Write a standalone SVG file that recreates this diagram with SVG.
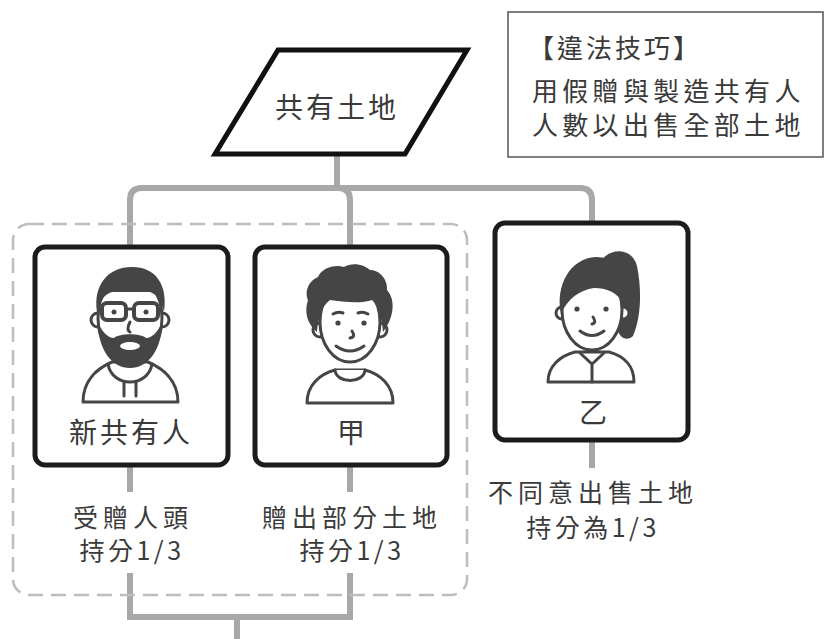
<svg xmlns="http://www.w3.org/2000/svg" width="825" height="639" viewBox="0 0 825 639">
  <style>
    .t { font-family: "Noto Sans CJK TC", "Noto Sans CJK SC", "Noto Sans", sans-serif; fill: #3a3a3a; }
    .card { fill: #ffffff; stroke: #1c1c1c; stroke-width: 5; }
    .wire { fill: none; stroke: #a8a8a8; stroke-width: 6; }
    .ink { fill: #454545; }
    .line { fill: #ffffff; stroke: #454545; stroke-width: 3; stroke-linejoin: round; stroke-linecap: round; }
    .stroke { fill: none; stroke: #454545; stroke-width: 3; stroke-linecap: round; }
  </style>
  <rect width="825" height="639" fill="#ffffff"/>

  <!-- connectors -->
  <g id="connectors">
    <path class="wire" d="M337,154 V188"/>
    <path class="wire" d="M130,247 V200 Q130,188 142,188 H580 Q592,188 592,200 V222"/>
    <path class="wire" d="M338,188 Q350,188 350,200 V247"/>
    <path class="wire" d="M130,465 V492"/>
    <path class="wire" d="M350,465 V492"/>
    <path class="wire" d="M592,440 V468"/>
    <path class="wire" d="M130,573 V617 H350 V573"/>
    <path class="wire" d="M237,617 V639"/>
  </g>

  <!-- dashed grouping frame -->
  <g id="group-frame">
    <rect x="13" y="224" width="454" height="371" rx="16" fill="none" stroke="#bdbdbd" stroke-width="2.5" stroke-dasharray="15 8"/>
  </g>

  <!-- shared land -->
  <g id="land">
    <polygon points="278,50 467,50 405,154 215,154" fill="#ffffff" stroke="#111111" stroke-width="5" stroke-linejoin="miter"/>
    <text class="t" x="337" y="118" font-size="28" letter-spacing="3" text-anchor="middle">共有土地</text>
  </g>

  <!-- note box -->
  <g id="note">
    <rect x="508" y="12" width="315" height="145" fill="#ffffff" stroke="#555555" stroke-width="1.5"/>
    <text class="t" x="528" y="58" font-size="26" letter-spacing="3">【違法技巧】</text>
    <text class="t" x="532" y="101" font-size="26" letter-spacing="4.3">用假贈與製造共有人</text>
    <text class="t" x="532" y="135" font-size="26" letter-spacing="4.3">人數以出售全部土地</text>
  </g>

  <!-- new co-owner -->
  <g id="new-owner">
    <rect class="card" x="35" y="247" width="193" height="218" rx="10"/>
    <circle class="line" cx="98" cy="320" r="7"/>
    <circle class="line" cx="162" cy="320" r="7"/>
    <path class="line" d="M83,402 C83,380 98,368 112,362 L148,362 C162,368 178,380 178,402 Z"/>
    <path class="stroke" d="M108,364 C110,376 120,382 130,382 C140,382 150,376 152,364"/>
    <path class="stroke" d="M124,382 V396 M136,382 V396"/>
    <ellipse class="line" cx="130" cy="318" rx="32" ry="44"/>
    <path class="ink" d="M97,312 C93,285 108,267 132,267 C156,267 168,285 164,312 C161,300 156,294 150,292 L112,292 C105,294 100,300 97,312 Z"/>
    <path class="ink" d="M98,322 C98,350 112,368 130,368 C148,368 162,350 162,322 C158,332 152,338 146,338 C140,333 120,333 114,338 C108,338 102,332 98,322 Z"/>
    <ellipse cx="130" cy="346" rx="10" ry="4" fill="#ffffff"/>
    <rect x="102" y="303" width="24" height="17" rx="5" fill="#ffffff" stroke="#454545" stroke-width="4"/>
    <rect x="134" y="303" width="24" height="17" rx="5" fill="#ffffff" stroke="#454545" stroke-width="4"/>
    <path class="stroke" d="M126,309 H134" stroke-width="4"/>
    <circle class="ink" cx="114" cy="312" r="2.5"/>
    <circle class="ink" cx="146" cy="312" r="2.5"/>
    <path class="stroke" d="M130,322 Q126,330 130,332" stroke-width="2.5"/>
    <text class="t" x="131" y="443" font-size="28" letter-spacing="3" text-anchor="middle">新共有人</text>
  </g>

  <!-- owner A -->
  <g id="owner-a">
    <rect class="card" x="255" y="247" width="192" height="218" rx="10"/>
    <circle class="line" cx="320" cy="330" r="7"/>
    <circle class="line" cx="380" cy="330" r="7"/>
    <path class="line" d="M307,403 C307,385 320,374 335,370 L365,370 C380,374 393,385 393,403 Z"/>
    <path class="line" d="M335,370 C336,384 364,384 365,370"/>
    <ellipse class="line" cx="350" cy="322" rx="30" ry="40"/>
    <path class="ink" d="M317,332 C307,324 304,312 308,300 C304,290 310,280 318,277 C322,268 334,264 344,267 C352,262 364,264 370,270 C380,270 388,280 387,290 C396,300 394,318 383,332 C382,318 378,306 372,300 C362,304 342,302 330,300 C322,306 318,318 317,332 Z"/>
    <path class="stroke" d="M333,314 Q338,311 343,313 M358,313 Q363,311 368,314" stroke-width="2.5"/>
    <circle class="ink" cx="338" cy="323" r="2.6"/>
    <circle class="ink" cx="364" cy="323" r="2.6"/>
    <path class="stroke" d="M352,331 Q356,337 350,338" stroke-width="2.5"/>
    <path class="stroke" d="M336,346 Q350,356 364,346"/>
    <text class="t" x="351" y="443" font-size="28" text-anchor="middle">甲</text>
  </g>

  <!-- owner B -->
  <g id="owner-b">
    <rect class="card" x="495" y="223" width="193" height="217" rx="10"/>
    <path class="ink" d="M598,266 C606,247 632,246 637,266 C642,290 641,318 633,336 C627,342 618,338 617,326 Z"/>
    <circle class="line" cx="562" cy="313" r="6"/>
    <circle class="line" cx="623" cy="313" r="6"/>
    <path class="line" d="M548,382 C548,366 560,356 575,352 L609,352 C624,356 634,366 634,382 Z"/>
    <path class="stroke" d="M580,353 L592,364 L604,353 M592,364 V382" stroke-width="2.5"/>
    <ellipse class="line" cx="592" cy="310" rx="30" ry="40"/>
    <path class="ink" d="M561,314 C555,286 570,258 596,257 C618,257 627,274 623,304 C618,292 606,288 594,288 C580,290 568,298 561,314 Z"/>
    <circle class="ink" cx="577" cy="309" r="2.6"/>
    <circle class="ink" cx="606" cy="309" r="2.6"/>
    <path class="stroke" d="M593,317 Q597,323 592,324" stroke-width="2.5"/>
    <path class="stroke" d="M580,331 Q592,340 604,331"/>
    <text class="t" x="593" y="423" font-size="28" text-anchor="middle">乙</text>
  </g>

  <!-- share captions -->
  <g id="captions">
    <text class="t" x="133" y="527" font-size="25" letter-spacing="5" text-anchor="middle">受贈人頭</text>
    <text class="t" x="132" y="560" font-size="25" letter-spacing="3.5" text-anchor="middle">持分1/3</text>
    <text class="t" x="352" y="527" font-size="25" letter-spacing="5" text-anchor="middle">贈出部分土地</text>
    <text class="t" x="352" y="560" font-size="25" letter-spacing="3.5" text-anchor="middle">持分1/3</text>
    <text class="t" x="593" y="502" font-size="25" letter-spacing="5" text-anchor="middle">不同意出售土地</text>
    <text class="t" x="593" y="537" font-size="25" letter-spacing="3.5" text-anchor="middle">持分為1/3</text>
  </g>
</svg>
